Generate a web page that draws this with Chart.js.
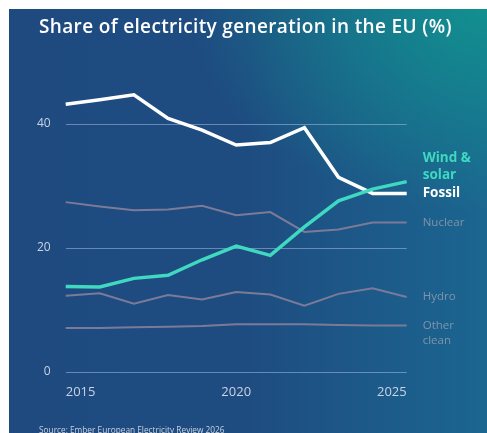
<!DOCTYPE html>
<html lang="en">
<head>
  <meta charset="UTF-8">
  <title>Share of electricity generation in the EU (%)</title>
  <script src="https://cdn.jsdelivr.net/npm/chart.js"></script>
  <style>
    html, body {
      margin: 0;
      padding: 0;
      background: #fff;
      overflow: hidden;
      width: 487px;
      height: 433px;
    }
    /* panel with the blue-to-teal backdrop */
    #panel {
      position: absolute;
      left: 9px;
      top: 9px;
      width: 478px;
      height: 424px;
      overflow: hidden;
      background:
        radial-gradient(ellipse 62% 48% at 100% 0%, rgba(17, 146, 143, 0.95), rgba(17, 146, 143, 0) 100%),
        linear-gradient(90deg, #1e4a80 0%, #1e4c81 50%, #1b6690 100%);
      font-family: "Open Sans", sans-serif;
    }
    #title {
      position: absolute;
      left: 30px;
      top: 4px;
      color: #fff;
      font-size: 19px;
      font-weight: 600;
      letter-spacing: 0.35px;
      white-space: nowrap;
    }
    #source {
      position: absolute;
      left: 30px;
      top: 415px;
      color: #c9d2de;
      font-size: 8.3px;
      white-space: nowrap;
    }
    #chartBox {
      position: absolute;
      left: 0;
      top: 0;
      width: 478px;
      height: 424px;
    }
  </style>
</head>
<body>
  <div id="panel">
    <div id="chartBox"><canvas id="shareChart"></canvas></div>
    <div id="title">Share of electricity generation in the EU (%)</div>
    <div id="source">Source: Ember European Electricity Review 2026</div>
  </div>

  <script>
    // data (% of EU generation)
    const years = ['2015', '2016', '2017', '2018', '2019', '2020', '2021', '2022', '2023', '2024', '2025'];
    const windSolar = [13.8, 13.7, 15.1, 15.6, 18.1, 20.3, 18.8, 23.4, 27.6, 29.5, 30.7];
    const fossil = [43.2, 43.9, 44.7, 40.9, 39.0, 36.6, 37.0, 39.4, 31.4, 28.8, 28.8];
    const nuclear = [27.4, 26.7, 26.1, 26.2, 26.8, 25.3, 25.8, 22.6, 23.0, 24.1, 24.1];
    const hydro = [12.3, 12.7, 11.0, 12.4, 11.7, 12.9, 12.5, 10.7, 12.6, 13.5, 12.1];
    const otherClean = [7.1, 7.1, 7.2, 7.3, 7.4, 7.7, 7.7, 7.7, 7.6, 7.5, 7.5];
    const yTicks = [0, 20, 40];
    const xTickYears = ['2015', '2020', '2025'];

    const greyLine = '#7b7b98';
    const teal = '#3fd8c0';

    // end-of-line labels; lines stack upward from the series' last point
    const endLabels = [
      { series: windSolar, anchor: fossil, lines: ['Wind &', 'solar'], shift: -1, color: teal, bold: true },
      { series: fossil, anchor: fossil, lines: ['Fossil'], color: '#ffffff', bold: true },
      { series: nuclear, anchor: nuclear, lines: ['Nuclear'], color: '#8094aa' },
      { series: hydro, anchor: hydro, lines: ['Hydro'], color: '#8094aa' },
      { series: otherClean, anchor: otherClean, lines: ['Other', 'clean'], color: '#8094aa' }
    ];

    const endLabelPlugin = {
      id: 'endLabels',
      afterDatasetsDraw(chart) {
        const ctx = chart.ctx;
        const y = chart.scales.y;
        const x0 = chart.chartArea.right + 16;
        ctx.save();
        ctx.textAlign = 'left';
        ctx.textBaseline = 'middle';
        endLabels.forEach(l => {
          const base = y.getPixelForValue(l.anchor[l.anchor.length - 1]);
          const lh = l.bold ? 17 : 15;
          ctx.fillStyle = l.color;
          ctx.font = (l.bold ? '700 13.5px' : '400 11.5px') + ' "Open Sans", sans-serif';
          l.lines.forEach((t, i) => {
            let yy = base + i * lh;
            if (l.shift) yy = base - (l.lines.length - i) * lh - 1;
            ctx.fillText(t, x0, yy);
          });
        });
        ctx.restore();
      }
    };

    Chart.defaults.font.family = '"Open Sans", sans-serif';

    new Chart(document.getElementById('shareChart'), {
      type: 'line',
      data: {
        labels: years,
        datasets: [
          { label: 'Wind & solar', data: windSolar, borderColor: teal, borderWidth: 3.5, order: 0 },
          { label: 'Fossil', data: fossil, borderColor: '#ffffff', borderWidth: 3.5, order: 1 },
          { label: 'Nuclear', data: nuclear, borderColor: greyLine, borderWidth: 2, order: 2 },
          { label: 'Hydro', data: hydro, borderColor: greyLine, borderWidth: 2, order: 3 },
          { label: 'Other clean', data: otherClean, borderColor: greyLine, borderWidth: 2, order: 4 }
        ]
      },
      options: {
        responsive: true,
        maintainAspectRatio: false,
        animation: false,
        devicePixelRatio: 1,
        elements: {
          point: { radius: 0, hoverRadius: 0 },
          line: { tension: 0, borderCapStyle: 'butt', borderJoinStyle: 'miter' }
        },
        layout: { padding: { left: 0, right: 80.3, top: 84, bottom: 0 } },
        plugins: {
          legend: { display: false },
          tooltip: { enabled: false }
        },
        scales: {
          x: {
            grid: { display: false },
            border: { display: false },
            ticks: {
              autoSkip: false,
              maxRotation: 0,
              align: 'inner',
              padding: 4,
              color: '#c9d3e2',
              font: { size: 13 },
              callback: function(v) {
                const lab = this.getLabelForValue(v);
                return xTickYears.includes(lab) ? lab : '';
              }
            },
            afterFit: axis => { axis.height = 61; }
          },
          y: {
            min: 0,
            max: 45,
            border: { display: false },
            grid: { color: 'rgba(160, 190, 225, 0.55)', lineWidth: 1, drawTicks: false },
            afterBuildTicks: axis => { axis.ticks = yTicks.map(v => ({ value: v })); },
            ticks: {
              padding: 15,
              color: '#c9d3e2',
              font: { size: 12 }
            },
            afterFit: axis => { axis.width = 56.7; }
          }
        }
      },
      plugins: [endLabelPlugin]
    });
  </script>
</body>
</html>
